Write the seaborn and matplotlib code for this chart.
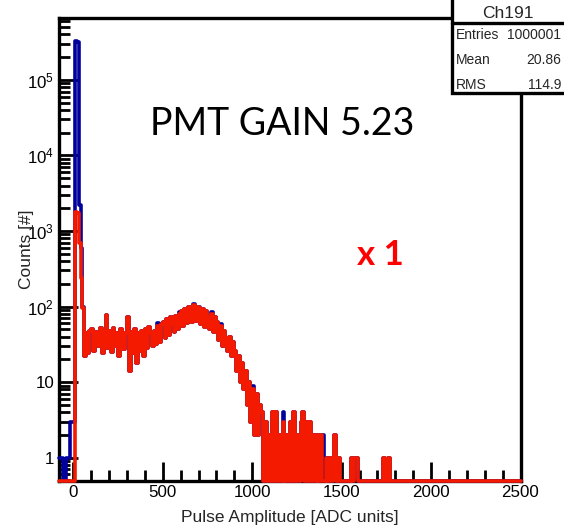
import numpy as np
import pandas as pd
import matplotlib
matplotlib.use("Agg")
import matplotlib.pyplot as plt
import seaborn as sns
from matplotlib.patches import Rectangle
from matplotlib.lines import Line2D
from matplotlib.ticker import FixedLocator, FixedFormatter, MultipleLocator, LogLocator, NullFormatter

# ---------------- data ----------------
BIN_START, BIN_STOP, BIN_WIDTH = -80, 2500, 10

# red histogram, counts per 10-ADC bin
red_pedestal = [0, 0, 0, 0, 0, 0, 0, 0,                          # -80 .. 0
                0, 1800, 1750, 700, 240, 95, 22, 45, 24, 48]      # 0 .. 100
red_continuum = [
    50, 26, 46, 36, 30, 52, 24, 48, 77, 28,     # 100
    47, 25, 52, 30, 44, 22, 50, 42, 27, 45,     # 200
    73, 14, 46, 24, 50, 18, 44, 26, 48, 22,     # 300
    50, 28, 54, 44, 30, 48, 32, 56, 34, 58,     # 400
    62, 38, 68, 42, 72, 58, 46, 76, 50, 80,     # 500
    86, 56, 92, 60, 98, 80, 62, 104, 64, 100,   # 600
    96, 58, 92, 54, 86, 70, 50, 80, 46, 72,     # 700
    62, 36, 55, 30, 48, 38, 26, 40, 22, 34,     # 800
    26, 14, 22, 10, 18, 8, 14, 5, 10, 3,        # 900
]
red_tail = [
    8, 2, 7, 2, 5, 4, 0, 3, 0, 2,   # 1000
    0, 4, 0, 4, 0, 2, 0, 3, 0, 2,   # 1100
    0, 3, 0, 4, 0, 2, 0, 3, 4, 0,   # 1200
    3, 0, 3, 0, 2, 0, 2, 0, 2, 0,   # 1300
    0, 1, 0, 1, 0, 1, 2, 0, 1, 0,   # 1400
    0, 0, 0, 0, 0, 1, 0, 1, 1, 0,   # 1500
    0, 0, 0, 0, 0, 0, 0, 0, 0, 0,   # 1600
    0, 0, 0, 1, 0, 0, 1, 0, 0, 0,   # 1700
    0, 0, 0, 0, 0, 0, 0, 0, 0, 0,   # 1800
    0, 0, 0, 0, 0, 0, 0, 0, 0, 0,   # 1900
    0, 0, 0, 0, 0, 0, 0, 0, 0, 0,   # 2000
    0, 0, 0, 0, 0, 0, 0, 0, 0, 0,   # 2100
    0, 0, 0, 0, 0, 0, 0, 0, 0, 0,   # 2200
    0, 0, 0, 0, 0, 0, 0, 0, 0, 0,   # 2300
    0, 0, 0, 0, 0, 0, 0, 0, 0, 0,   # 2400
]

# blue histogram: identical to red except in the pedestal and a few bins
blue_pedestal = [1, 1, 0, 0, 1, 1, 3, 3,             # -80 .. 0
                 3, 330000, 320000, 2200, 600, 100]  # 0 .. 60
blue_excess_x = [470, 590, 670, 700, 770, 820, 1000, 1170, 1390]
blue_excess_counts = [60, 84, 108, 100, 84, 58, 9, 4, 2]

x_tick_values = [0, 500, 1000, 1500, 2000, 2500]
x_tick_labels = ["0", "500", "1000", "1500", "2000", "2500"]
y_tick_values = [1, 10, 100, 1000, 10000, 100000]
y_tick_labels = ["1", "10", r"$10^{2}$", r"$10^{3}$", r"$10^{4}$", r"$10^{5}$"]

stats_title = "Ch191"
stats_names = ["Entries", "Mean", "RMS"]
stats_values = ["1000001", "20.86", "114.9"]

# ---------------- build histograms ----------------
edges = np.arange(BIN_START, BIN_STOP + 1, BIN_WIDTH)
centers = edges[:-1] + BIN_WIDTH / 2
red_counts = np.array(red_pedestal + red_continuum + red_tail, dtype=float)
blue_counts = red_counts.copy()
blue_counts[:len(blue_pedestal)] = blue_pedestal
for x0, c in zip(blue_excess_x, blue_excess_counts):
    blue_counts[(x0 - BIN_START) // BIN_WIDTH] = c

Y_MIN, Y_MAX = 0.49, 6.6e5

sns.set_style("white")
plt.rcParams.update({
    "font.family": ["Liberation Sans", "DejaVu Sans"],
    "mathtext.fontset": "custom",
    "mathtext.rm": "Liberation Sans",
    "mathtext.it": "Liberation Sans:italic",
    "mathtext.bf": "Liberation Sans:bold",
})

W, H = 564, 529
fig = plt.figure(figsize=(W / 100, H / 100), dpi=100)
fig.patch.set_facecolor("white")
ax = fig.add_axes([58.5 / W, 1 - 481 / H, (520.5 - 58.5) / W, (481 - 18) / H])

for counts, color in [(blue_counts, "#00009c"), (red_counts, "#f41a00")]:
    df = pd.DataFrame({"amp": centers, "n": np.clip(counts, Y_MIN, None)})
    sns.histplot(data=df, x="amp", weights="n", binwidth=BIN_WIDTH,
                 binrange=(BIN_START, BIN_STOP), element="step",
                 fill=False, color=color, linewidth=2.6, ax=ax)
for ln in ax.lines:
    ln.set_clip_on(False)
    ln.set_zorder(3)

ax.set_yscale("log")
ax.set_xlim(-83, 2500)
ax.set_ylim(Y_MIN, Y_MAX)

for s in ax.spines.values():
    s.set_linewidth(2.4)
    s.set_color("black")

ax.xaxis.set_major_locator(FixedLocator(x_tick_values))
ax.xaxis.set_major_formatter(FixedFormatter(x_tick_labels))
ax.xaxis.set_minor_locator(MultipleLocator(100))
ax.yaxis.set_major_locator(FixedLocator(y_tick_values))
ax.yaxis.set_major_formatter(FixedFormatter(y_tick_labels))
ax.yaxis.set_minor_locator(LogLocator(base=10, subs=np.arange(2, 10), numticks=30))
ax.yaxis.set_minor_formatter(NullFormatter())

ax.tick_params(which="both", direction="in", top=False, right=False,
               bottom=True, left=True, width=2.0, colors="black",
               labelsize=12.2, pad=3)
ax.tick_params(which="major", length=14)
ax.tick_params(which="minor", length=8)

ax.set_xlabel("Pulse Amplitude [ADC units]", fontsize=12.5, labelpad=7)
ax.set_ylabel("Counts [#]", fontsize=12.5)
ax.yaxis.set_label_coords(-0.052, 0.5)

# annotations
fig.text(150 / W, 1 - 135 / H, "PMT GAIN 5.23", family="Lato", fontsize=27,
         color="black", ha="left", va="baseline")
fig.text(357 / W, 1 - 265 / H, "x 1", family="Lato", fontsize=25,
         weight="bold", color="#ff0000", ha="left", va="baseline")

# stats box
box = Rectangle((452 / W, 1 - 93 / H), (580 - 452) / W, 100 / H,
                transform=fig.transFigure, facecolor="white", edgecolor="black",
                linewidth=2.4, zorder=10, clip_on=False)
fig.add_artist(box)
fig.add_artist(Line2D([452 / W, 1.0], [1 - 23 / H, 1 - 23 / H],
                      transform=fig.transFigure, color="black", linewidth=2.4, zorder=11))
fig.text(508 / W, 1 - 13 / H, stats_title, fontsize=12.5, ha="center", va="center", zorder=12)
for i, (nm, val) in enumerate(zip(stats_names, stats_values)):
    yy = 1 - (35 + 25 * i) / H
    fig.text(456 / W, yy, nm, fontsize=10, ha="left", va="center", zorder=12)
    fig.text(561 / W, yy, val, fontsize=10, ha="right", va="center", zorder=12)

fig.savefig("out.png", dpi=100)
